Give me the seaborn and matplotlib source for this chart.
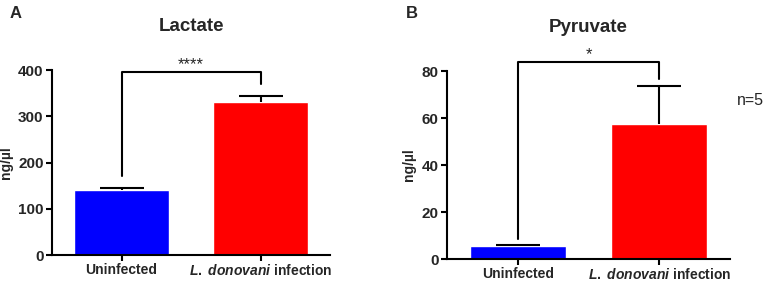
import matplotlib
matplotlib.use("Agg")
import matplotlib.pyplot as plt
import seaborn as sns
import pandas as pd

sns.set_style("white")
plt.rcParams['font.family'] = ['Liberation Sans', 'DejaVu Sans']
plt.rcParams['mathtext.fontset'] = 'custom'
plt.rcParams['mathtext.it'] = 'Liberation Sans:italic:bold'
plt.rcParams['mathtext.rm'] = 'Liberation Sans:bold'
plt.rcParams['mathtext.bf'] = 'Liberation Sans:bold'

categories = ["Uninfected", "L. donovani infection"]
xtick_labels = ["Uninfected", "$\\it{L.\\ donovani}$ infection"]
lactate_mean = [141, 330]
lactate_err = [3, 14]
pyruvate_mean = [5.6, 57.5]
pyruvate_err = [0.5, 16]
colors = ["#0000FF", "#FF0000"]

fig = plt.figure(figsize=(7.65, 2.83), dpi=100)
axA = fig.add_axes([0.068, 0.0989, 0.3634, 0.6537])
axB = fig.add_axes([0.5843, 0.0848, 0.370, 0.664])


def panel(ax, means, errs, title, ylim, yticks, sig, left_leg, right_leg, top, star_off):
    df = pd.DataFrame({"cat": categories, "val": means})
    sns.barplot(data=df, x="cat", y="val", hue="cat", palette=colors,
                width=0.68, ax=ax, legend=False, saturation=1)
    _, caps, _ = ax.errorbar([0, 1], means, yerr=[[0, 0], errs], fmt="none",
                             ecolor="black", elinewidth=1.5, capsize=16, capthick=1.5)
    caps[0].set_visible(False)
    ax.set_xlim(-0.5, 1.5)
    ax.set_ylim(*ylim)
    ax.set_yticks(yticks)
    ax.set_yticklabels([str(t) for t in yticks], fontsize=11, fontweight="bold")
    ax.set_xticks([0, 1])
    ax.set_xticklabels(xtick_labels, fontsize=10, fontweight="bold")
    ax.set_xlabel("")
    ax.set_ylabel("ng/µl", fontsize=10, fontweight="bold")
    ax.set_title(title, fontsize=13.5, fontweight="bold", pad=28)
    for s in ["top", "right"]:
        ax.spines[s].set_visible(False)
    for s in ["left", "bottom"]:
        ax.spines[s].set_linewidth(1.5)
        ax.spines[s].set_color("black")
    ax.tick_params(axis="both", direction="out", length=4, width=1.5,
                   color="black", left=True, bottom=True, pad=2)
    ax.plot([0, 0, 1, 1], [left_leg, top, top, right_leg], color="black",
            lw=1.5, clip_on=False)
    ax.text(0.5, top + star_off, sig, ha="center", va="bottom", fontsize=12)


panel(axA, lactate_mean, lactate_err, "Lactate", (0, 400), [0, 100, 200, 300, 400],
      "****", 171, 369, 396, 0)
panel(axB, pyruvate_mean, pyruvate_err, "Pyruvate", (0, 80), [0, 20, 40, 60, 80],
      "*", 8.5, 76.6, 84, 0)

fig.text(10 / 765, 1 - 14 / 283, "A", fontsize=12, fontweight="bold", va="center")
fig.text(406 / 765, 1 - 13 / 283, "B", fontsize=12, fontweight="bold", va="center")
fig.text(750 / 765, 1 - 100 / 283, "n=5", fontsize=11.5, ha="center", va="center")

fig.savefig("out.png", dpi=100)
